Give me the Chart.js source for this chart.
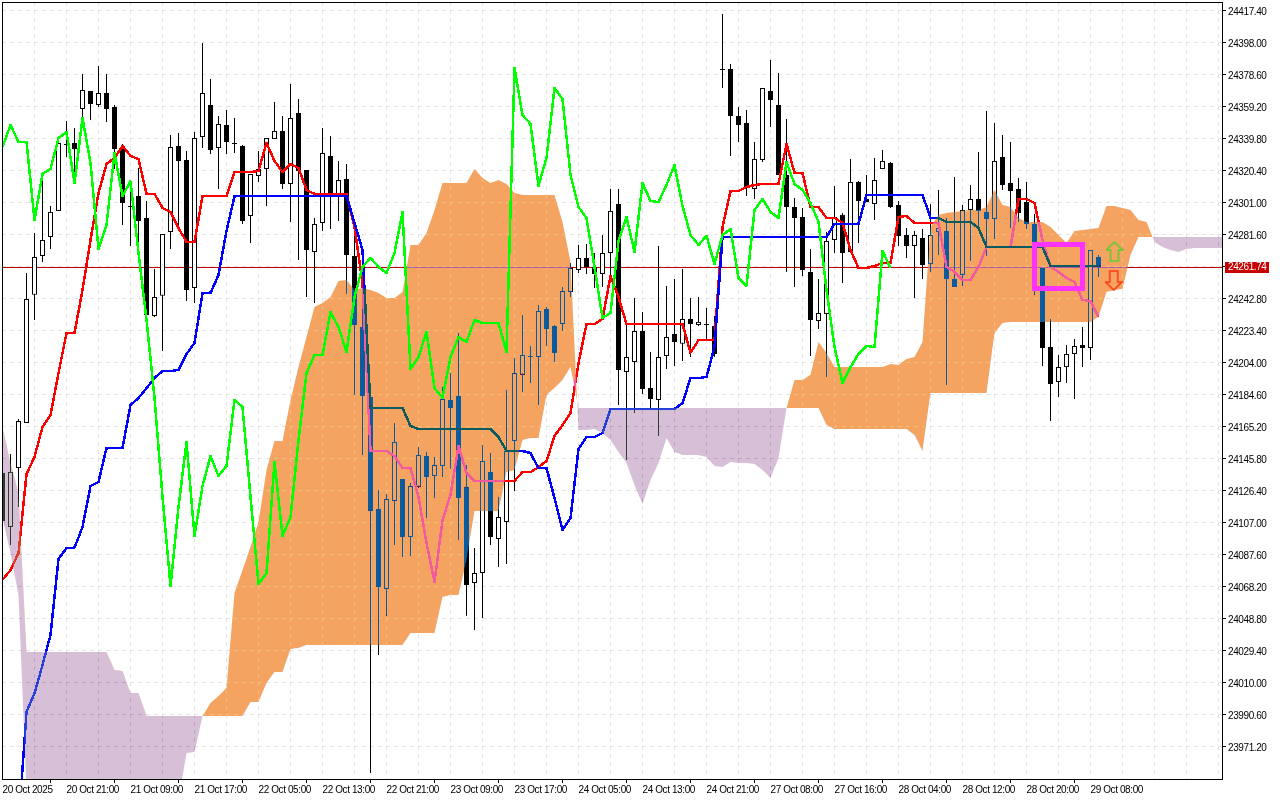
<!DOCTYPE html>
<html><head><meta charset="utf-8"><style>html,body{margin:0;padding:0;background:#fff}canvas{display:block}</style>
<script src="https://cdn.jsdelivr.net/npm/chart.js@4"></script></head><body>
<canvas id="c" width="1280" height="800"></canvas>
<script>
const openPrices=[24136.7,24104.0,24139.7,24167.0,24244.7,24268.3,24279.8,24295.6,24336.2,24336.8,
24357.4,24368.3,24359.8,24367.1,24358.6,24333.1,24298.6,24304.6,24291.3,24231.9,
24244.1,24282.8,24335.0,24326.5,24248.9,24340.4,24359.8,24333.7,24347.7,24336.8,
24335.0,24292.5,24316.8,24321.0,24339.2,24344.1,24311.9,24355.0,24320.4,24270.7,
24288.3,24328.9,24305.9,24315.0,24268.3,24225.2,24182.8,24114.9,24066.4,24119.7,
24133.1,24097.9,24128.3,24147.0,24134.9,24141.0,24181.0,24183.4,24128.3,24070.0,
24076.1,24137.3,24096.7,24107.0,24156.1,24196.2,24207.0,24207.0,24236.1,24225.8,
24227.0,24246.4,24259.8,24267.1,24261.6,24257.4,24270.1,24299.8,24198.0,24204.0,
24222.8,24188.2,24181.0,24207.6,24221.0,24215.0,24230.1,24226.4,24227.0,24225.8,
24381.6,24381.6,24353.1,24348.9,24308.9,24326.5,24368.3,24359.8,24317.4,24298.0,
24291.9,24258.6,24228.9,24233.1,24278.0,24293.2,24270.7,24313.1,24302.8,24299.8,
24321.0,24324.7,24299.2,24281.0,24274.4,24279.2,24263.4,24282.8,24283.4,24254.3,
24256.8,24296.2,24302.8,24295.0,24290.7,24328.3,24312.5,24308.9,24301.0,24287.7,
24261.0,24213.1,24191.9,24200.9,24208.9,24214.3,24212.5,24267.7];
const closePrices=[24107.6,24137.3,24168.2,24242.2,24267.7,24278.0,24295.0,24336.8,24335.6,24333.1,
24368.9,24360.4,24367.1,24357.4,24333.1,24300.4,24298.0,24289.5,24232.5,24243.4,
24281.6,24334.3,24325.9,24247.7,24339.8,24367.1,24332.5,24348.3,24337.4,24336.2,
24289.5,24318.0,24321.0,24339.8,24344.1,24311.9,24351.9,24319.8,24271.9,24287.7,
24330.7,24306.5,24314.3,24268.9,24226.5,24183.4,24113.7,24067.6,24121.0,24155.5,
24097.9,24128.9,24147.6,24134.3,24141.6,24181.6,24176.1,24121.5,24068.8,24076.1,
24144.0,24097.9,24110.0,24150.1,24197.4,24208.2,24207.6,24234.9,24224.0,24209.5,
24247.1,24261.0,24267.1,24261.6,24257.4,24270.1,24295.6,24199.2,24207.0,24222.8,
24187.6,24181.6,24207.0,24219.1,24216.1,24230.1,24227.0,24228.3,24226.4,24208.9,
24381.0,24353.1,24347.7,24310.1,24327.1,24370.1,24362.8,24317.4,24298.0,24291.3,
24259.8,24229.5,24233.7,24277.4,24291.9,24270.1,24313.1,24301.6,24301.0,24314.3,
24325.9,24298.0,24280.4,24274.4,24281.0,24262.8,24281.0,24285.2,24254.3,24249.5,
24296.2,24302.8,24295.6,24290.7,24325.9,24311.3,24307.7,24294.4,24287.7,24261.6,
24212.5,24190.7,24200.9,24208.9,24213.7,24212.5,24271.9,24261.74];
const highPrices=[24138.5,24148.3,24169.4,24258.0,24282.2,24313.7,24298.6,24337.4,24350.1,24345.9,
24378.6,24368.3,24383.5,24378.6,24359.8,24336.2,24308.3,24321.6,24301.6,24260.4,
24281.6,24341.6,24342.8,24331.9,24343.4,24397.4,24375.6,24353.1,24356.8,24351.9,
24335.6,24318.0,24331.9,24339.8,24361.6,24353.1,24372.6,24363.4,24320.4,24291.3,
24345.9,24341.0,24325.9,24324.0,24287.1,24240.4,24184.0,24126.4,24124.0,24167.0,
24133.1,24130.7,24152.5,24149.5,24146.4,24188.8,24197.3,24221.6,24141.6,24091.3,
24153.7,24148.9,24122.1,24187.0,24206.4,24232.5,24213.7,24238.5,24237.3,24226.4,
24249.5,24264.0,24275.0,24275.6,24270.1,24281.0,24308.9,24308.9,24227.0,24242.8,
24234.3,24210.1,24274.4,24250.1,24254.3,24260.4,24242.8,24243.4,24236.7,24231.9,
24415.0,24384.7,24358.6,24356.8,24337.4,24370.1,24387.1,24379.2,24351.3,24303.4,
24297.4,24272.5,24254.3,24282.8,24310.7,24294.4,24327.1,24313.7,24317.4,24327.7,
24332.5,24325.3,24301.6,24285.2,24283.4,24284.6,24299.8,24308.3,24291.3,24316.2,
24299.2,24311.3,24331.3,24356.2,24348.9,24341.6,24337.4,24315.5,24313.1,24293.8,
24261.0,24230.1,24208.2,24214.3,24217.9,24225.2,24271.9,24268.9];
const lowPrices=[24105.2,24093.1,24116.1,24167.0,24229.5,24264.6,24272.5,24295.6,24328.3,24316.8,
24351.9,24350.7,24358.6,24349.5,24321.0,24287.1,24274.4,24275.0,24232.5,24231.3,
24210.7,24272.5,24285.8,24241.0,24239.8,24333.7,24330.1,24308.9,24330.1,24330.7,
24287.7,24276.2,24313.1,24298.6,24339.2,24308.9,24288.9,24265.8,24243.4,24239.8,
24283.4,24284.6,24289.5,24245.3,24184.0,24147.6,23954.8,24026.4,24050.1,24093.1,
24085.8,24086.4,24127.7,24109.4,24121.5,24134.3,24139.1,24096.1,24050.1,24041.5,
24048.8,24093.1,24079.7,24081.6,24125.8,24185.8,24191.3,24178.0,24213.7,24204.0,
24222.8,24243.4,24258.0,24257.4,24248.9,24249.5,24256.8,24178.0,24144.6,24173.1,
24184.6,24176.1,24159.1,24199.8,24201.6,24204.6,24207.0,24225.8,24217.3,24207.0,
24370.1,24328.9,24337.4,24304.6,24302.8,24325.3,24346.5,24317.4,24258.6,24249.5,
24256.2,24207.6,24224.0,24194.9,24270.1,24251.9,24270.7,24276.2,24301.0,24290.1,
24321.0,24297.4,24274.4,24267.1,24242.8,24254.3,24258.6,24268.9,24190.1,24249.5,
24250.1,24265.2,24285.2,24268.3,24278.6,24308.3,24285.2,24288.9,24284.6,24244.7,
24201.6,24168.2,24182.8,24191.3,24181.6,24201.0,24205.2,24255.5];
const tenkan=[24071.8,24077.9,24088.2,24136.1,24146.4,24164.6,24171.9,24197.4,24221.6,24221.6,
24247.7,24278.0,24306.5,24324.0,24327.7,24335.0,24328.9,24327.1,24305.9,24305.9,
24297.4,24295.0,24285.2,24276.8,24276.8,24304.6,24304.6,24304.6,24304.6,24319.2,
24319.2,24319.2,24319.8,24336.8,24325.9,24319.2,24324.0,24321.6,24308.3,24305.9,
24305.9,24305.9,24305.9,24305.9,24285.8,24251.9,24150.1,24150.1,24150.1,24147.0,
24139.7,24139.7,24122.2,24094.3,24070.6,24108.2,24123.4,24153.1,24136.7,24131.9,
24131.9,24131.9,24131.9,24131.9,24131.9,24137.3,24137.3,24140.3,24144.0,24159.1,
24165.8,24173.1,24203.4,24227.0,24227.0,24230.1,24256.2,24243.4,24227.0,24227.0,
24227.0,24227.0,24227.0,24227.0,24227.0,24227.0,24209.5,24217.3,24217.3,24217.3,
24285.8,24307.7,24307.7,24310.1,24311.3,24311.9,24311.9,24311.9,24336.2,24318.6,
24318.6,24298.0,24298.0,24291.3,24291.3,24288.3,24271.9,24261.0,24261.0,24262.2,
24264.0,24264.0,24291.9,24292.5,24288.3,24288.3,24288.3,24288.3,24261.6,24258.6,
24253.7,24253.7,24261.6,24273.7,24273.7,24273.7,24273.7,24302.8,24302.8,24300.4,
24278.0,24261.6,24258.6,24254.9,24252.5,24241.6,24241.0,24231.3];
const kijun=[23900,23900,23923.3,23991.8,24003.3,24020.3,24038.5,24084.6,24091.3,24091.3,
24104.0,24128.9,24131.3,24151.9,24151.9,24151.9,24177.9,24182.2,24188.2,24194.3,
24198.5,24198.5,24199.2,24208.9,24215.5,24245.9,24245.9,24256.8,24283.4,24304.6,
24304.6,24304.6,24304.6,24304.6,24304.6,24304.6,24304.6,24304.6,24304.6,24304.6,
24304.6,24304.6,24304.6,24304.6,24288.3,24271.9,24176.1,24176.1,24176.1,24176.1,
24176.1,24165.2,24163.4,24163.4,24163.4,24163.4,24163.4,24163.4,24163.4,24163.4,
24163.4,24163.4,24158.5,24150.1,24150.1,24150.1,24148.8,24139.7,24139.7,24121.5,
24102.2,24109.4,24151.3,24158.5,24158.5,24160.9,24175.5,24175.5,24175.5,24175.5,
24175.5,24175.5,24175.5,24175.5,24175.5,24179.1,24194.3,24194.3,24194.9,24213.1,
24279.8,24279.8,24279.8,24279.8,24279.8,24279.8,24279.8,24279.8,24279.8,24279.8,
24279.8,24279.8,24279.8,24279.8,24287.7,24287.7,24287.7,24287.7,24305.3,24305.3,
24305.3,24305.3,24305.3,24305.3,24305.3,24305.3,24291.3,24291.3,24288.9,24288.9,
24288.9,24288.9,24285.2,24273.7,24273.7,24273.7,24273.7,24273.7,24273.7,24273.7,
24273.7,24262.2,24262.2,24262.2,24262.2,24262.2,24262.2,24262.2];
const chikou=[24334.3,24347.7,24337.4,24337.4,24290.1,24318.0,24321.0,24339.8,24343.4,24312.5,
24351.9,24324.7,24272.5,24287.1,24330.7,24304.6,24313.7,24270.1,24229.5,24182.2,
24122.2,24068.2,24116.1,24155.5,24098.5,24128.9,24147.0,24134.9,24141.0,24181.0,
24176.7,24122.2,24069.4,24076.1,24143.4,24098.5,24110.0,24156.7,24197.4,24208.2,
24208.2,24234.3,24225.2,24210.1,24243.4,24261.6,24267.1,24261.6,24258.0,24270.1,
24295.0,24199.8,24207.0,24222.2,24188.2,24182.2,24207.0,24219.1,24216.1,24229.5,
24227.6,24227.6,24227.6,24210.1,24382.2,24353.7,24348.3,24310.7,24327.7,24370.1,
24363.4,24317.4,24298.0,24291.3,24261.6,24230.7,24233.7,24277.4,24291.9,24270.7,
24312.5,24301.6,24301.0,24311.3,24323.4,24298.6,24281.0,24275.0,24280.4,24263.4,
24281.0,24284.6,24254.9,24250.1,24296.2,24302.8,24295.0,24291.3,24325.3,24311.9,
24308.3,24300.4,24288.9,24247.7,24213.1,24191.3,24201.0,24208.9,24213.7,24213.1,
24271.3,24261.0];
const spanA=[24109.4,24088.2,24062.7,23944.5,23938.5,23938.5,23938.5,23938.5,23938.5,23938.5,
23938.5,23938.5,23938.5,23938.5,23938.5,23938.5,23938.5,23938.5,23938.5,23938.5,
23938.5,23938.5,23938.5,23966.9,23967.5,23989.4,23997.3,24001.5,24006.4,24063.9,
24077.9,24091.9,24107.0,24138.5,24156.1,24156.1,24181.0,24201.0,24219.1,24237.3,
24239.8,24243.4,24253.1,24253.7,24247.7,24248.9,24247.7,24245.9,24242.8,24242.8,
24246.4,24275.0,24275.0,24282.2,24296.2,24312.5,24312.5,24312.5,24312.5,24321.0,
24315.5,24312.5,24314.3,24311.9,24306.5,24305.3,24305.3,24305.3,24305.3,24305.3,
24288.9,24264.6,24162.8,24162.8,24163.4,24160.9,24156.7,24149.5,24142.8,24129.4,
24117.9,24132.5,24142.8,24157.9,24149.5,24147.6,24147.6,24147.6,24146.4,24141.0,
24140.3,24143.4,24142.8,24142.8,24142.2,24138.5,24133.7,24145.8,24176.1,24193.1,
24193.1,24196.2,24216.1,24209.5,24201.0,24201.0,24201.0,24201.0,24201.0,24201.0,
24201.0,24202.8,24202.2,24205.8,24207.0,24216.1,24285.8,24293.1,24294.3,24295.0,
24295.6,24296.2,24296.2,24298.0,24308.3,24299.2,24298.0,24291.3,24288.9,24288.9,
24288.9,24285.8,24281.0,24276.2,24283.4,24284.0,24284.6,24285.2,24298.6,24298.6,
24297.4,24296.2,24290.1,24288.9,24276.8,24273.7,24271.9,24270.7,24272.5,24273.1,
24273.1,24273.1,24273.1,24273.1];
const spanB=[24164.6,24142.8,24124.6,24028.2,24028.2,24028.2,24028.2,24028.2,24028.2,24028.2,
24028.2,24028.2,24028.2,24028.2,24017.3,24016.7,24003.3,24003.3,23989.4,23989.4,
23989.4,23989.4,23989.4,23989.4,23989.4,23989.4,23989.4,23989.4,23989.4,23989.4,
23989.4,23997.9,23997.9,24009.4,24016.1,24016.1,24030.0,24030.6,24032.4,24032.4,
24032.4,24032.4,24032.4,24032.4,24032.4,24032.4,24032.4,24032.4,24032.4,24032.4,
24032.4,24039.7,24039.7,24039.7,24039.7,24061.5,24062.7,24062.7,24084.0,24113.7,
24113.7,24113.7,24113.7,24137.3,24138.5,24156.7,24157.9,24157.9,24184.0,24188.2,
24193.1,24201.0,24176.1,24176.1,24176.1,24176.1,24176.1,24176.1,24176.1,24176.1,
24176.1,24176.1,24176.1,24176.1,24176.1,24176.1,24176.1,24176.1,24176.1,24176.1,
24176.1,24176.1,24176.1,24176.1,24176.1,24176.1,24176.1,24176.1,24176.1,24176.1,
24176.1,24176.1,24176.1,24165.8,24163.4,24163.4,24163.4,24163.4,24163.4,24163.4,
24163.4,24163.4,24163.4,24163.4,24159.7,24150.1,24185.2,24185.2,24185.2,24185.2,
24185.2,24185.2,24185.2,24185.2,24221.6,24227.6,24228.2,24228.2,24228.2,24228.2,
24228.2,24228.2,24228.2,24228.2,24228.2,24228.2,24228.2,24231.3,24246.4,24247.7,
24248.3,24268.9,24279.8,24279.8,24279.8,24279.8,24279.8,24279.8,24279.8,24279.8,
24279.8,24279.8,24279.8,24279.8];
const yTickLabels=["24417.40","24398.00","24378.60","24359.20","24339.80","24320.40","24301.00","24281.60","24262.20","24242.80","24223.40","24204.00","24184.60","24165.20","24145.80","24126.40","24107.00","24087.60","24068.20","24048.80","24029.40","24010.00","23990.60","23971.20"];
const xTickLabels=["20 Oct 2025","20 Oct 21:00","21 Oct 09:00","21 Oct 17:00","22 Oct 05:00","22 Oct 13:00","22 Oct 21:00","23 Oct 09:00","23 Oct 17:00","24 Oct 05:00","24 Oct 13:00","24 Oct 21:00","27 Oct 08:00","27 Oct 16:00","28 Oct 04:00","28 Oct 12:00","28 Oct 20:00","29 Oct 08:00"];
const currentPrice=24261.74;
const boxBars=[129,135,135,129,129];
const boxPrices=[24275.1,24275.1,24248.7,24248.7,24275.1];
const arrowBars=[139,138.9];
const arrowPrices=[24271.0,24253.4];

const FONT='"Liberation Sans"';
const FSIZE=10;
const pts=(a)=>a.map((y,x)=>({x,y}));
function arrowImg(color,up){
  const c=document.createElement('canvas');c.width=18;c.height=21;const g=c.getContext('2d');
  g.strokeStyle=color;g.lineWidth=1.6;g.lineJoin='miter';g.beginPath();
  const p=[[9,1],[17,9],[13,9],[13,20],[5,20],[5,9],[1,9]];
  p.forEach(([x,y],i)=>{const yy=up?y:21-y;i?g.lineTo(x,yy):g.moveTo(x,yy);});
  g.closePath();g.stroke();return c;
}
const arrowImgs=[arrowImg('#5FCC33',true),arrowImg('#FF3A14',false)];
const lineBase={type:'line',pointRadius:0,borderWidth:2.6,tension:0,fill:false,borderJoinStyle:'round'};
const datasets=[
 {...lineBase,label:'price',data:[{x:-1,y:currentPrice},{x:154,y:currentPrice}],borderColor:'#C00000',borderWidth:1,order:12},
 {type:'bar',label:'wicks',data:highPrices.map((h,i)=>({x:i,y:[lowPrices[i],h]})),backgroundColor:'#000',barThickness:1,grouped:false,inflateAmount:0,borderWidth:0,order:11},
 {type:'bar',label:'bodies',data:openPrices.map((o,i)=>({x:i,y:[o,closePrices[i]]})),
  backgroundColor:openPrices.map((o,i)=>closePrices[i]>=o?'#fff':'#000'),borderColor:'#000',borderWidth:1,borderSkipped:false,barThickness:5,grouped:false,inflateAmount:0,order:10},
 {...lineBase,label:'tenkan',data:pts(tenkan),borderColor:'#FF0000',order:9},
 {...lineBase,label:'kijun',data:pts(kijun),borderColor:'#0000FF',order:8},
 {...lineBase,label:'spanB',data:pts(spanB),borderWidth:0,order:7},
 {...lineBase,label:'spanA',data:pts(spanA),borderWidth:0,fill:{target:5,above:'#0B5B9F',below:'#274027'},order:6},
 {...lineBase,label:'chikou',data:pts(chikou),borderColor:'#00FF00',order:5},
 {...lineBase,label:'box',data:boxBars.map((x,i)=>({x,y:boxPrices[i]})),borderColor:'#FF33FF',borderWidth:5,borderJoinStyle:'miter',borderCapStyle:'square',order:2},
 {type:'line',label:'arrows',data:arrowBars.map((x,i)=>({x,y:arrowPrices[i]})),showLine:false,pointStyle:(c)=>arrowImgs[c.dataIndex],pointRadius:10,order:1}
];
const SPAN_A=6,SPAN_B=5,PRICE=0;
const CRISP={0:[0xC0,0,0],3:[255,0,0],4:[0,0,255],7:[0,255,0],8:[255,0x33,255]};
let snap=null;
function gridLines(chart,color){
  const {ctx,chartArea:a,scales:{x,y}}=chart;
  ctx.save();ctx.strokeStyle=color;ctx.lineWidth=1;ctx.setLineDash([4,4]);
  x.ticks.forEach(t=>{const p=Math.floor(x.getPixelForValue(t.value))+.5;ctx.beginPath();ctx.moveTo(p,a.top);ctx.lineTo(p,a.bottom);ctx.stroke();});
  y.ticks.forEach(t=>{const p=Math.floor(y.getPixelForValue(t.value))+.5;ctx.beginPath();ctx.moveTo(a.left,p);ctx.lineTo(a.right,p);ctx.stroke();});
  ctx.restore();
}
const mt={id:'mt',
 beforeDraw(c){const g=c.ctx;g.save();g.fillStyle='#fff';g.fillRect(0,0,c.width,c.height);g.restore();g.letterSpacing='-0.4px';},
 beforeDatasetsDraw(c){gridLines(c,'#E4E4E4');},
 beforeDatasetDraw(c,args){
  const a=c.chartArea,g=c.ctx;
  if(CRISP[args.index]) snap=g.getImageData(a.left,a.top,a.right-a.left,a.bottom-a.top);
  if(args.index===PRICE){g.save();g.translate(0,.65);}
 },
 afterDatasetDraw(c,args){
  const g=c.ctx,a=c.chartArea;
  if(args.index===PRICE) g.restore();
  if(args.index===SPAN_B) g.globalCompositeOperation='difference';
  if(args.index===SPAN_A){
   g.globalCompositeOperation='source-over';
   const im=g.getImageData(a.left,a.top,a.right-a.left,a.bottom-a.top),d=im.data;
   for(let i=0;i<d.length;i+=4){
    if(d[i]===0xD9&&d[i+1]===0x89&&d[i+2]===0x45){d[i]=0xEF;d[i+1]=0xBF;d[i+2]=0x7B;}
   }
   g.putImageData(im,a.left,a.top);
  }
  const col=CRISP[args.index];
  if(col){
   const im=g.getImageData(a.left,a.top,a.right-a.left,a.bottom-a.top),d=im.data,s=snap.data;
   for(let i=0;i<d.length;i+=4){
    if(d[i]===s[i]&&d[i+1]===s[i+1]&&d[i+2]===s[i+2])continue;
    let al=0;
    for(let k=0;k<3;k++){const den=col[k]-s[i+k];if(Math.abs(den)>40)al=Math.max(al,(d[i+k]-s[i+k])/den);}
    const src=al>=.55?col:[s[i],s[i+1],s[i+2]];
    d[i]=src[0];d[i+1]=src[1];d[i+2]=src[2];d[i+3]=255;
   }
   g.putImageData(im,a.left,a.top);
  }
 },
 afterDraw(c){
  const g=c.ctx,a=c.chartArea,y=c.scales.y;
  g.save();
  g.strokeStyle='#000';g.lineWidth=1;g.strokeRect(a.left+.5,a.top+.5,a.right-a.left,a.bottom-a.top);
  const p=Math.floor(y.getPixelForValue(currentPrice))+1;
  g.fillStyle='#C80000';g.fillRect(1225,p-5,44,11);
  g.fillStyle='#fff';g.font=FSIZE+'px '+FONT;g.textBaseline='middle';g.textAlign='left';
  g.fillText(currentPrice.toFixed(2),1228,p+.5);
  g.restore();
 }
};
new Chart(document.getElementById('c'),{
 type:'bar',
 data:{datasets},
 plugins:[mt],
 options:{responsive:false,animation:false,events:[],
  layout:{autoPadding:false,padding:{left:2,top:2,right:0,bottom:0}},
  plugins:{legend:{display:false},tooltip:{enabled:false},title:{display:false}},
  scales:{
   x:{type:'linear',min:-0.0625,max:152.4375,offset:false,
    afterBuildTicks(s){const t=[];for(let i=0;i<=152;i+=4)t.push({value:i});s.ticks=t;},
    afterFit(s){s.height=21;s.paddingLeft=0;s.paddingRight=0;},
    grid:{drawOnChartArea:false,tickLength:4,tickColor:(c)=>(c.index%2===0&&c.index/2<xTickLabels.length)?'#000':'rgba(0,0,0,0)'},
    border:{color:'#000'},
    ticks:{autoSkip:false,maxRotation:0,minRotation:0,align:'start',padding:1,color:'#000',font:{family:FONT,size:FSIZE},
     callback(v){return (v%8===0&&xTickLabels[v/8])||'';}}
   },
   y:{type:'linear',position:'right',min:23951.194,max:24422.25,
    afterBuildTicks(s){s.ticks=yTickLabels.map(l=>({value:parseFloat(l)}));},
    afterFit(s){s.width=58;s.paddingTop=0;s.paddingBottom=0;},
    grid:{drawOnChartArea:false,tickLength:4,tickColor:'#000'},
    border:{color:'#000'},
    ticks:{autoSkip:false,padding:2,labelOffset:2,color:'#000',font:{family:FONT,size:FSIZE},callback(v){return v.toFixed(2);}}
   }
  }
 }
});
</script></body></html>
